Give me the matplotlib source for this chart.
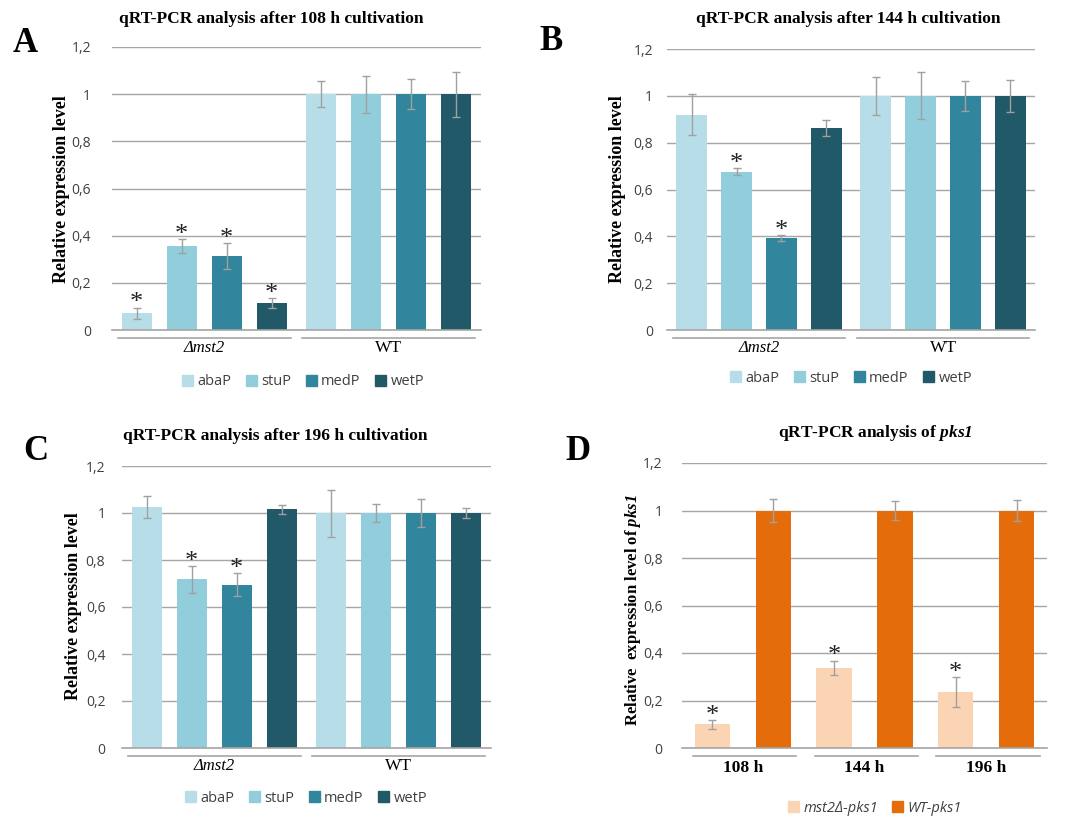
import numpy as np
import matplotlib
matplotlib.use("Agg")
import matplotlib.pyplot as plt
from matplotlib.patches import Patch

plt.rcParams["mathtext.fontset"] = "custom"
plt.rcParams["mathtext.bfit"] = "Liberation Serif:bold:italic"
plt.rcParams["mathtext.rm"] = "Liberation Serif"

# --- data ---
series = ["abaP", "stuP", "medP", "wetP"]
groups_abc = ["\u0394mst2", "WT"]

a_mut = [0.07, 0.355, 0.315, 0.115]
a_mut_err = [0.025, 0.03, 0.055, 0.02]
a_wt = [1.0, 1.0, 1.0, 1.0]
a_wt_err = [0.055, 0.078, 0.063, 0.095]
a_star = [True, True, True, True]

b_mut = [0.92, 0.675, 0.393, 0.862]
b_mut_err = [0.088, 0.015, 0.012, 0.035]
b_wt = [1.0, 1.0, 1.0, 1.0]
b_wt_err = [0.08, 0.1, 0.063, 0.068]
b_star = [False, True, True, False]

c_mut = [1.025, 0.718, 0.695, 1.015]
c_mut_err = [0.048, 0.058, 0.048, 0.018]
c_wt = [1.0, 1.0, 1.0, 1.0]
c_wt_err = [0.1, 0.038, 0.06, 0.022]
c_star = [False, True, True, False]

d_times = ["108 h", "144 h", "196 h"]
d_mut = [0.1, 0.338, 0.235]
d_mut_err = [0.018, 0.03, 0.063]
d_wt = [1.0, 1.0, 1.0]
d_wt_err = [0.05, 0.04, 0.045]

colors4 = ["#B7DEE8", "#92CDDC", "#31859C", "#215968"]
d_colors = ["#FBD4B4", "#E46C0A"]
GRID = "#A6A6A6"
ERR = "#A0A0A0"
TICK = "#404040"
SERIF = "Liberation Serif"
SANS = "Open Sans"

W, H = 1068, 817
fig = plt.figure(figsize=(W / 100, H / 100), dpi=100)


def px_axes(x0, x1, ytop, ybot):
    return fig.add_axes([x0 / W, (H - ybot) / H, (x1 - x0) / W, (ybot - ytop) / H])


def ftext(txt, x, y, **kw):
    return fig.text(x / W, (H - y) / H, txt, ha="center", va="center", **kw)


def star(ax, x, top):
    ax.text(x, top - 0.008, "*", ha="center", va="baseline",
            fontfamily=SERIF, fontsize=19, color="#222222")


def style_axes(ax, pad):
    ax.set_ylim(0, 1.2)
    ax.set_yticks(np.arange(0, 1.21, 0.2))
    ax.set_yticklabels(["0", "0,2", "0,4", "0,6", "0,8", "1", "1,2"],
                       fontfamily=SANS, fontsize=10, color=TICK)
    ax.tick_params(axis="y", length=0, pad=pad)
    ax.tick_params(axis="x", length=0, labelbottom=False)
    for s in ["top", "right", "left"]:
        ax.spines[s].set_visible(False)
    ax.spines["bottom"].set_color(GRID)
    ax.spines["bottom"].set_linewidth(1.2)
    ax.grid(axis="y", color=GRID, lw=1)
    ax.set_axisbelow(True)


def abc_panel(ax, mut, mut_err, wt, wt_err, stars, pad):
    step = 0.244
    width = 0.165
    for i in range(4):
        xs = np.array([0.5, 1.5]) + (i - 1.5) * step
        ax.bar(xs, [mut[i], wt[i]], width=width, color=colors4[i], label=series[i],
               yerr=[mut_err[i], wt_err[i]], error_kw=dict(ecolor=ERR, lw=1, capsize=3, capthick=1))
        if stars[i]:
            star(ax, xs[0], mut[i] + mut_err[i])
    ax.set_xlim(0, 2)
    style_axes(ax, pad)
    tr = ax.get_xaxis_transform()
    for g in range(2):
        ax.plot([g + 0.03, g + 0.97], [-0.028, -0.028], transform=tr, color=GRID, lw=1.2, clip_on=False)
    ax.text(0.5, -0.065, groups_abc[0], transform=tr, ha="center", va="center",
            fontfamily=SERIF, fontstyle="italic", fontsize=12)
    ax.text(1.5, -0.065, groups_abc[1], transform=tr, ha="center", va="center",
            fontfamily=SERIF, fontsize=12.5)


def add_legend(handles, labels, cx, cy, italic=False):
    leg = fig.legend(handles, labels, loc="center", bbox_to_anchor=(cx / W, (H - cy) / H),
                     ncol=len(labels), frameon=False, handlelength=0.75, handleheight=0.75,
                     handletextpad=0.3, columnspacing=1.0,
                     prop=dict(family=SANS, size=10.5, style="italic" if italic else "normal"))
    for t in leg.get_texts():
        t.set_color("#404040")


TITLE_KW = dict(fontfamily=SERIF, fontweight="bold", fontsize=12.5)
YLAB_KW = dict(fontfamily=SERIF, fontweight="bold", fontsize=13, rotation=90)

axA = px_axes(112, 481, 47, 330)
abc_panel(axA, a_mut, a_mut_err, a_wt, a_wt_err, a_star, 15)
axB = px_axes(667, 1035, 49, 330)
abc_panel(axB, b_mut, b_mut_err, b_wt, b_wt_err, b_star, 10)
axC = px_axes(122, 491, 466, 748)
abc_panel(axC, c_mut, c_mut_err, c_wt, c_wt_err, c_star, 12)

ftext("qRT-PCR analysis after 108 h cultivation", 271, 19, **TITLE_KW)
ftext("qRT-PCR analysis after 144 h cultivation", 848, 19, **TITLE_KW)
ftext("qRT-PCR analysis after 196 h cultivation", 275, 436, **TITLE_KW)

ftext("Relative expression level", 62, 189, **YLAB_KW)
ftext("Relative expression level", 618, 189, **YLAB_KW)
ftext("Relative expression level", 73, 606, **YLAB_KW)

handles4 = [Patch(color=c) for c in colors4]
add_legend(handles4, series, 303, 382)
add_legend(handles4, series, 851, 378)
add_legend(handles4, series, 306, 798)

# panel D
axD = px_axes(682, 1047, 463, 748)
xd = np.arange(3) + 0.5
axD.bar(xd - 0.25, d_mut, width=0.29, color=d_colors[0], yerr=d_mut_err,
        error_kw=dict(ecolor=ERR, lw=1, capsize=3, capthick=1))
axD.bar(xd + 0.25, d_wt, width=0.29, color=d_colors[1], yerr=d_wt_err,
        error_kw=dict(ecolor=ERR, lw=1, capsize=3, capthick=1))
for i in range(3):
    star(axD, xd[i] - 0.25, d_mut[i] + d_mut_err[i])
axD.set_xlim(0, 3)
style_axes(axD, 14)
trD = axD.get_xaxis_transform()
for g in range(3):
    axD.plot([g + 0.09, g + 0.94], [-0.028, -0.028], transform=trD, color=GRID, lw=1.2, clip_on=False)
    axD.text(g + 0.5, -0.07, d_times[g], transform=trD, ha="center", va="center",
             fontfamily=SERIF, fontweight="bold", fontsize=12.5)
ftext("qRT-PCR analysis of $\\mathbfit{pks1}$", 875, 433, **TITLE_KW)
ftext("Relative  expression level of $\\mathbfit{pks1}$", 633, 610,
      fontfamily=SERIF, fontweight="bold", fontsize=12, rotation=90)
add_legend([Patch(color=c) for c in d_colors], ["mst2\u0394-pks1", "WT-pks1"], 875, 808, italic=True)

LET_KW = dict(fontfamily=SERIF, fontweight="bold", fontsize=25)
ftext("A", 25, 43, **LET_KW)
ftext("B", 551, 42, **LET_KW)
ftext("C", 36, 452, **LET_KW)
ftext("D", 578, 452, **LET_KW)

fig.savefig("out.png", dpi=100)
